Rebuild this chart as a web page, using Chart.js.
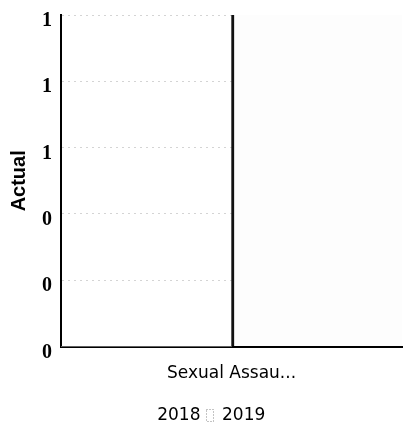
<!DOCTYPE html>
<html>
<head>
<meta charset="utf-8">
<script src="https://cdn.jsdelivr.net/npm/chart.js@4/dist/chart.umd.min.js"></script>
<style>
    html, body { margin: 0; padding: 0; background: #fff; }
    #wrap { width: 404px; height: 430px; }
</style>
</head>
<body>
<div id="wrap"><canvas id="chart"></canvas></div>
<script>
// data
const categories = ['Sexual Assau...'];
const seriesNames = ['2018', '2019'];
const values2018 = [0];
const values2019 = [1];
const yMin = 0;
const yMax = 1;
const yStep = 0.2;

document.addEventListener("DOMContentLoaded", function () {
    const ctx = document.getElementById('chart').getContext('2d');
    new Chart(ctx, {
        type: 'bar',
        data: {
            labels: categories,
            datasets: [
                {
                    label: seriesNames[0],
                    data: values2018,
                    backgroundColor: '#ffffff',
                    borderColor: '#111',
                    borderWidth: 0
                },
                {
                    label: seriesNames[1],
                    data: values2019,
                    backgroundColor: '#fdfdfd',
                    borderColor: '#111',
                    borderWidth: { left: 3, top: 0, right: 0, bottom: 0 },
                    borderSkipped: false
                }
            ]
        },
        options: {
            responsive: true,
            maintainAspectRatio: false,
            animation: false,
            layout: { padding: { top: -4, right: 2, left: 5, bottom: -4 } },
            datasets: {
                bar: { categoryPercentage: 1.0, barPercentage: 1.0 }
            },
            plugins: {
                legend: {
                    position: 'bottom',
                    labels: {
                        font: { family: 'DejaVu Sans', size: 17 },
                        color: '#000',
                        boxWidth: 7,
                        boxHeight: 12,
                        padding: 6,
                        generateLabels: function (chart) {
                            return seriesNames.map(function (name, i) {
                                return {
                                    text: name,
                                    fillStyle: '#ffffff',
                                    strokeStyle: i === 0 ? '#ffffff' : '#888',
                                    lineWidth: 1,
                                    lineDash: [1, 2],
                                    datasetIndex: i
                                };
                            });
                        }
                    }
                },
                tooltip: { enabled: false }
            },
            scales: {
                x: {
                    grid: { display: false, drawTicks: false },
                    border: { display: true, color: '#000', width: 2 },
                    ticks: {
                        font: { family: 'DejaVu Sans', size: 17 },
                        color: '#000',
                        padding: 17
                    }
                },
                y: {
                    min: yMin,
                    max: yMax,
                    grid: {
                        color: '#d4d4d4',
                        drawTicks: false
                    },
                    border: { display: true, color: '#000', width: 2, dash: [2, 4] },
                    ticks: {
                        stepSize: yStep,
                        font: { family: 'Liberation Serif', size: 20, weight: 'bold', lineHeight: 0.6 },
                        color: '#000',
                        padding: 9,
                        labelOffset: 6,
                        callback: function (value) {
                            return Math.round(value).toString();
                        }
                    },
                    title: {
                        display: true,
                        text: 'Actual',
                        font: { family: 'Liberation Sans', size: 20, weight: 'bold' },
                        color: '#000',
                        padding: 2
                    }
                }
            }
        }
    });
});
</script>
</body>
</html>
